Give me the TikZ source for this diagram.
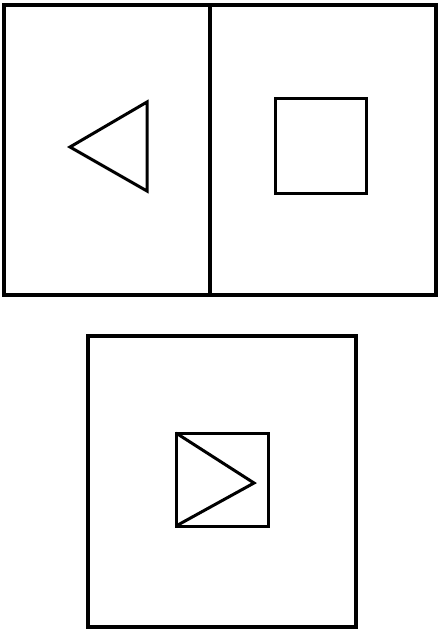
\documentclass[tikz,border=0pt]{standalone}
\usepackage{tikz}

\begin{document}
\begin{tikzpicture}[
    x=1pt, y=-1pt,
    frame/.style={draw, line width=3.2pt, line join=miter},
    figline/.style={draw, line width=3pt, line join=miter}
]
\useasboundingbox (0,0) rectangle (441,631);

% ---- Top panel (two halves) ----
\draw[frame] (4,5) rectangle (436,295);
\draw[frame] (210,5) -- (210,295);

% Left half: triangle pointing left
\draw[figline] (70,147) -- (147,102) -- (147,191) -- cycle;

% Right half: square
\draw[figline] (275,99) rectangle (366,193);

% ---- Bottom panel ----
\draw[frame] (88,336) rectangle (356,627);

% Square with triangle pointing right inside
\coordinate (sq_tl) at (176,433);
\coordinate (sq_bl) at (176,526);
\coordinate (tip)   at (254,483);
\draw[figline] (sq_tl) rectangle (268,526);
\draw[figline] (sq_tl) -- (tip) -- (sq_bl);

\end{tikzpicture}
\end{document}
